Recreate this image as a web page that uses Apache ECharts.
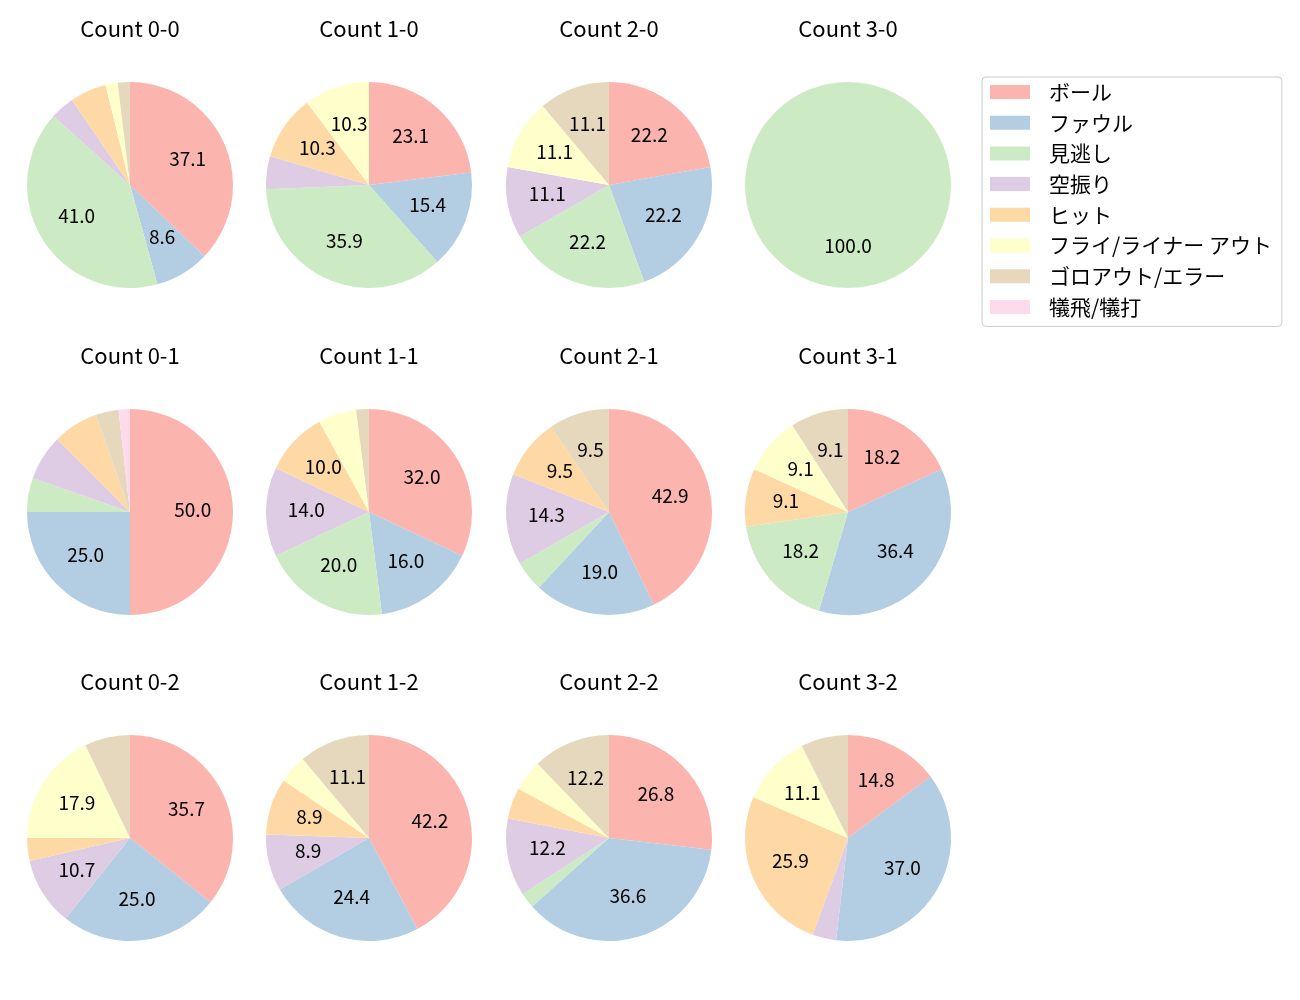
<!DOCTYPE html>
<html>
<head>
<meta charset="utf-8">
<script src="https://cdn.jsdelivr.net/npm/echarts@6/dist/echarts.min.js"></script>
<style>
html,body{margin:0;padding:0;background:#fff;}
#chart{width:1300px;height:1000px;}
</style>
</head>
<body>
<div id="chart"></div>
<script>
// ---- Data ----
const categories = ['ボール', 'ファウル', '見逃し', '空振り', 'ヒット', 'フライ/ライナー アウト', 'ゴロアウト/エラー', '犠飛/犠打'];
const titles = ['Count 0-0', 'Count 1-0', 'Count 2-0', 'Count 3-0',
                'Count 0-1', 'Count 1-1', 'Count 2-1', 'Count 3-1',
                'Count 0-2', 'Count 1-2', 'Count 2-2', 'Count 3-2'];
const count00 = [39, 9, 43, 4, 6, 2, 2, 0];
const count10 = [9, 6, 14, 2, 4, 4, 0, 0];
const count20 = [2, 2, 2, 1, 0, 1, 1, 0];
const count30 = [0, 0, 1, 0, 0, 0, 0, 0];
const count01 = [28, 14, 3, 4, 4, 0, 2, 1];
const count11 = [16, 8, 10, 7, 5, 3, 1, 0];
const count21 = [9, 4, 1, 3, 2, 0, 2, 0];
const count31 = [2, 4, 2, 0, 1, 1, 1, 0];
const count02 = [10, 7, 0, 3, 1, 5, 2, 0];
const count12 = [19, 11, 0, 4, 4, 2, 5, 0];
const count22 = [11, 15, 1, 5, 2, 2, 5, 0];
const count32 = [4, 10, 0, 1, 7, 3, 2, 0];
const pieCounts = [count00, count10, count20, count30,
                   count01, count11, count21, count31,
                   count02, count12, count22, count32];

// ---- Style / layout ----
const colors = ['#fbb4ae', '#b3cde3', '#ccebc5', '#decbe4', '#fed9a6', '#ffffcc', '#e5d8bd', '#fddaec'];
const FONT = '"Noto Sans CJK JP", "Noto Sans", sans-serif';
const R = 103;
const colX = [130, 369, 609, 848];
const rowY = [185, 512, 838];
const titleY = [18, 345, 671];
const LABEL_MIN_PCT = 8;

const chart = echarts.init(document.getElementById('chart'), null, {renderer: 'canvas'});

const series = [];
const title = [];
pieCounts.forEach(function (counts, i) {
  const col = i % 4, row = Math.floor(i / 4);
  const total = counts.reduce(function (a, b) { return a + b; }, 0);
  const data = counts.map(function (v, k) {
    return {name: categories[k], value: v, itemStyle: {color: colors[k]}};
  });
  const center = [colX[col], rowY[row]];
  series.push({
    type: 'pie',
    center: center,
    radius: [0, R],
    startAngle: 90,
    clockwise: true,
    avoidLabelOverlap: false,
    silent: true,
    animation: false,
    label: {show: false},
    labelLine: {show: false},
    itemStyle: {borderWidth: 0},
    emphasis: {disabled: true},
    data: data
  });
  series.push({
    type: 'pie',
    center: center,
    radius: [0.16 * R, R],
    startAngle: 90,
    clockwise: true,
    avoidLabelOverlap: false,
    silent: true,
    animation: false,
    itemStyle: {color: 'rgba(0,0,0,0)', borderWidth: 0},
    label: {
      show: true,
      position: 'inside',
      offset: [0, -2],
      color: '#000',
      fontFamily: FONT,
      fontSize: 19,
      formatter: function (p) {
        const pct = p.value / total * 100;
        return (p.value > 0 && pct >= LABEL_MIN_PCT) ? pct.toFixed(1) : '';
      }
    },
    labelLine: {show: false},
    emphasis: {disabled: true},
    data: counts.map(function (v, k) {
      return {name: categories[k], value: v, itemStyle: {color: 'rgba(0,0,0,0)'}};
    })
  });
  title.push({
    text: titles[i],
    left: colX[col],
    top: titleY[row],
    textAlign: 'center',
    padding: 0,
    textStyle: {fontFamily: FONT, fontSize: 22, fontWeight: 'normal', color: '#000'}
  });
});

chart.setOption({
  backgroundColor: '#fff',
  animation: false,
  title: title,
  legend: {
    orient: 'vertical',
    left: 982,
    top: 77,
    padding: [4.5, 10, 9, 8],
    itemWidth: 40,
    itemHeight: 14,
    itemGap: 9.7,
    icon: 'rect',
    borderColor: '#cccccc',
    borderWidth: 1,
    borderRadius: 4,
    backgroundColor: '#fff',
    selectedMode: false,
    textStyle: {fontFamily: FONT, fontSize: 21, color: '#000', lineHeight: 21, padding: [0, 0, 0, 14]},
    data: categories.map(function (c, k) {
      return {name: c, itemStyle: {color: colors[k]}};
    })
  },
  series: series
});
</script>
</body>
</html>
